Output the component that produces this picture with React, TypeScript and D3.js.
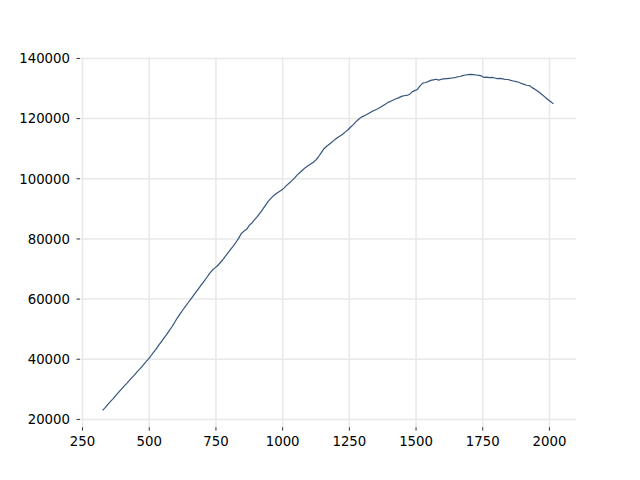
import * as d3 from 'd3'
import { useEffect } from 'react'

const xStart = 325
const xStep = 10
const yValues = [
  23000, 23900, 25000, 26000, 26900, 28000, 29000, 30000, 31000, 31900,
  32900, 33900, 34800, 35900, 36800, 37800, 38900, 39900, 41000, 42200,
  43300, 44600, 45800, 47000, 48200, 49500, 50800, 52200, 53700, 55000,
  56300, 57500, 58700, 59900, 61100, 62300, 63500, 64700, 65900, 67100,
  68400, 69500, 70300, 71000, 72000, 73000, 74200, 75400, 76500, 77600,
  78900, 80200, 81800, 82600, 83200, 84500, 85300, 86400, 87400, 88600,
  89800, 91100, 92400, 93400, 94300, 95000, 95600, 96200, 96900, 97800,
  98600, 99400, 100300, 101300, 102100, 102900, 103700, 104300, 104900, 105500,
  106300, 107400, 108700, 110000, 110800, 111500, 112200, 113000, 113600, 114200,
  114800, 115600, 116300, 117200, 118000, 119000, 119800, 120500, 120900, 121400,
  121900, 122400, 122800, 123200, 123700, 124300, 124800, 125400, 125800, 126200,
  126600, 126900, 127400, 127600, 127700, 128000, 128900, 129300, 129700, 130900,
  131800, 132000, 132300, 132700, 132900, 133100, 132800, 133100, 133200, 133300,
  133400, 133500, 133600, 133900, 134000, 134300, 134500, 134600, 134700, 134600,
  134500, 134400, 134200, 133700, 133800, 133600, 133700, 133500, 133300, 133400,
  133200, 133000, 133000, 132700, 132500, 132300, 132100, 131700, 131400, 131100,
  131000, 130300, 129800, 129200, 128500, 127800, 127000, 126300, 125600, 124900,
]
const xTicks = [250, 500, 750, 1000, 1250, 1500, 1750, 2000]
const yTicks = [20000, 40000, 60000, 80000, 100000, 120000, 140000]

const W = 640
const H = 480
const left = 80
const right = 576
const top = 57.6
const bottom = 427.2

export default function App() {
  useEffect(() => {
    document.body.style.margin = '0'
  }, [])

  const points = yValues.map((v, i) => [xStart + i * xStep, v] as [number, number])
  const xs = points.map((p) => p[0])
  const xMin = d3.min(xs)!
  const xMax = d3.max(xs)!
  const yMin = d3.min(yValues)!
  const yMax = d3.max(yValues)!
  const xPad = (xMax - xMin) * 0.05
  const yPad = (yMax - yMin) * 0.05

  const x = d3.scaleLinear().domain([xMin - xPad, xMax + xPad]).range([left, right])
  const y = d3.scaleLinear().domain([yMin - yPad, yMax + yPad]).range([bottom, top])

  const line = d3
    .line<[number, number]>()
    .x((d) => x(d[0]))
    .y((d) => y(d[1]))

  const font = { fontFamily: 'DejaVu Sans', fontSize: 13.3 }

  return (
    <svg width={W} height={H} style={{ display: 'block' }}>
      <rect width={W} height={H} fill="#fff" />
      {/* grid */}
      {xTicks.map((t) => (
        <line key={'gx' + t} x1={x(t)} x2={x(t)} y1={top} y2={bottom} stroke="#e8e8e8" strokeWidth={1.5} />
      ))}
      {yTicks.map((t) => (
        <line key={'gy' + t} x1={left} x2={right} y1={y(t)} y2={y(t)} stroke="#e8e8e8" strokeWidth={1.5} />
      ))}
      {/* data */}
      <path d={line(points) ?? ''} fill="none" stroke="#36557a" strokeWidth={1.2} strokeLinejoin="round" />
      {/* ticks */}
      {xTicks.map((t) => (
        <g key={'tx' + t}>
          <line x1={x(t)} x2={x(t)} y1={bottom} y2={bottom + 3.5} stroke="#000" strokeWidth={0.8} />
          <text x={x(t)} y={bottom + 19} textAnchor="middle" style={font}>
            {t}
          </text>
        </g>
      ))}
      {yTicks.map((t) => (
        <g key={'ty' + t}>
          <line x1={left - 3.5} x2={left} y1={y(t)} y2={y(t)} stroke="#000" strokeWidth={0.8} />
          <text x={left - 10} y={y(t)} dy="0.36em" textAnchor="end" style={font}>
            {t}
          </text>
        </g>
      ))}
    </svg>
  )
}
